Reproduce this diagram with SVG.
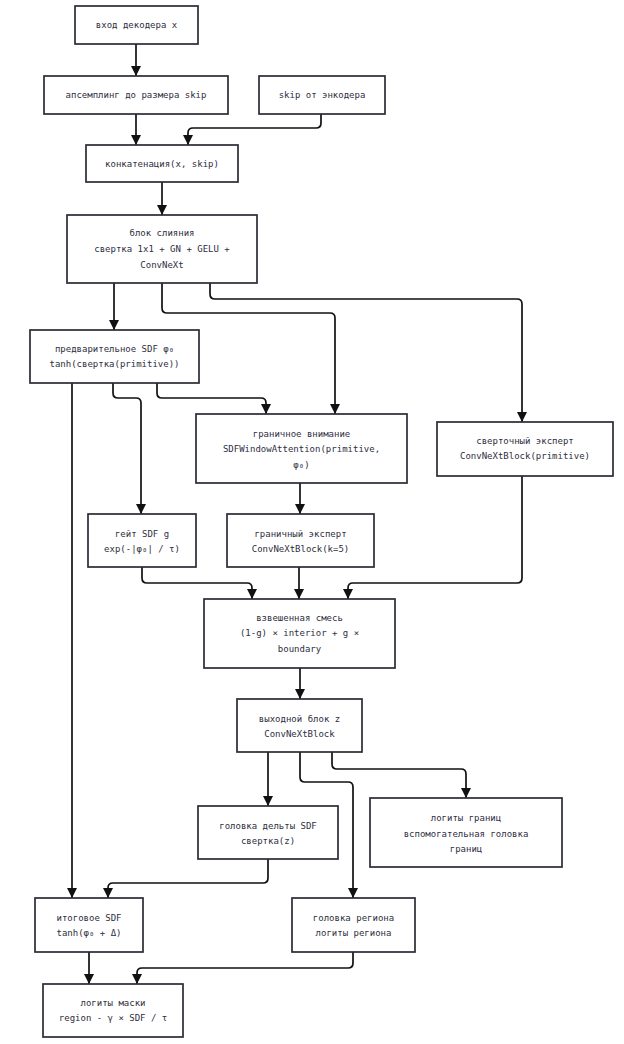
<svg xmlns="http://www.w3.org/2000/svg" width="624" height="1044" viewBox="0 0 624 1044">
<defs>
<marker id="ah" markerUnits="userSpaceOnUse" markerWidth="10" markerHeight="10" refX="10" refY="5" orient="auto">
<path d="M0,0 L10,5 L0,10 z" fill="#111"/>
</marker>
<style>
.box{fill:#fff;stroke:#2b2b36;stroke-width:1.7}
.t{font-family:"DejaVu Sans Mono","Liberation Mono",monospace;font-size:9px;fill:#2e2e3e;text-anchor:middle;dominant-baseline:central}
.c{fill:none;stroke:#111;stroke-width:1.7;marker-end:url(#ah)}
.n{fill:none;stroke:#111;stroke-width:1.7}
</style>
</defs>
<rect width="624" height="1044" fill="#fff"/>
<g id="connectors">
<path class="c" d="M136,44 V76"/>
<path class="c" d="M136,114 V145"/>
<path class="c" d="M321,114 V123 Q321,128 316,128 H193 Q188,128 188,133 V145"/>
<path class="c" d="M162,182 V215"/>
<path class="c" d="M114,283 V330"/>
<path class="c" d="M162,283 V308 Q162,313 167,313 H330 Q335,313 335,318 V414"/>
<path class="c" d="M210,283 V294 Q210,299 215,299 H517 Q522,299 522,304 V422"/>
<path class="c" d="M72,382 V898"/>
<path class="c" d="M113,382 V393 Q113,398 118,398 H136 Q141,398 141,403 V514"/>
<path class="c" d="M157,382 V393 Q157,398 162,398 H261 Q266,398 266,403 V414"/>
<path class="c" d="M300,483 V514"/>
<path class="c" d="M142,567 V578 Q142,583 147,583 H247 Q252,583 252,588 V599"/>
<path class="c" d="M299,567 V599"/>
<path class="c" d="M522,476 V578 Q522,583 517,583 H353 Q348,583 348,588 V599"/>
<path class="c" d="M300,668 V699"/>
<path class="c" d="M268,752 V806"/>
<path class="c" d="M300,752 V777 Q300,782 305,782 H348 Q353,782 353,787 V898"/>
<path class="c" d="M332,752 V764 Q332,769 337,769 H461 Q466,769 466,774 V798"/>
<path class="c" d="M268,859 V878 Q268,883 263,883 H113 Q108,883 108,888 V898"/>
<path class="c" d="M89,952 V984"/>
<path class="c" d="M353,952 V963 Q353,968 348,968 H142 Q137,968 137,973 V984"/>
</g>
<g id="n1"><rect class="box" x="75" y="6" width="123" height="38"/><text class="t" x="136.5" y="25">вход декодера x</text></g>
<g id="n2"><rect class="box" x="44" y="76" width="184" height="38"/><text class="t" x="136" y="95">апсемплинг до размера skip</text></g>
<g id="n3"><rect class="box" x="259" y="76" width="126" height="38"/><text class="t" x="322" y="95">skip от энкодера</text></g>
<g id="n4"><rect class="box" x="86" y="145" width="152" height="37"/><text class="t" x="162" y="163.5">конкатенация(x, skip)</text></g>
<g id="n5"><rect class="box" x="67" y="215" width="190" height="68"/><text class="t" x="162" y="233">блок слияния</text><text class="t" x="162" y="249">свертка 1x1 + GN + GELU +</text><text class="t" x="162" y="265">ConvNeXt</text></g>
<g id="n6"><rect class="box" x="30" y="330" width="169" height="53"/><text class="t" x="114.5" y="349">предварительное SDF φ₀</text><text class="t" x="114.5" y="364">tanh(свертка(primitive))</text></g>
<g id="n7"><rect class="box" x="196" y="414" width="211" height="69"/><text class="t" x="301.5" y="434">граничное внимание</text><text class="t" x="301.5" y="449">SDFWindowAttention(primitive,</text><text class="t" x="301.5" y="465">φ₀)</text></g>
<g id="n8"><rect class="box" x="437" y="422" width="176" height="54"/><text class="t" x="525" y="441">сверточный эксперт</text><text class="t" x="525" y="456">ConvNeXtBlock(primitive)</text></g>
<g id="n9"><rect class="box" x="88" y="514" width="108" height="53"/><text class="t" x="142" y="534">гейт SDF g</text><text class="t" x="142" y="549">exp(-|φ₀| / τ)</text></g>
<g id="n10"><rect class="box" x="227" y="514" width="147" height="53"/><text class="t" x="300.5" y="534">граничный эксперт</text><text class="t" x="300.5" y="549">ConvNeXtBlock(k=5)</text></g>
<g id="n11"><rect class="box" x="204" y="599" width="191" height="69"/><text class="t" x="299.5" y="618">взвешенная смесь</text><text class="t" x="299.5" y="633">(1-g) × interior + g ×</text><text class="t" x="299.5" y="649">boundary</text></g>
<g id="n12"><rect class="box" x="237" y="699" width="125" height="53"/><text class="t" x="299.5" y="719">выходной блок z</text><text class="t" x="299.5" y="734">ConvNeXtBlock</text></g>
<g id="n13"><rect class="box" x="198" y="806" width="140" height="53"/><text class="t" x="268" y="826">головка дельты SDF</text><text class="t" x="268" y="841">свертка(z)</text></g>
<g id="n14"><rect class="box" x="370" y="798" width="192" height="69"/><text class="t" x="466" y="818">логиты границ</text><text class="t" x="466" y="834">вспомогательная головка</text><text class="t" x="466" y="849">границ</text></g>
<g id="n15"><rect class="box" x="35" y="898" width="108" height="54"/><text class="t" x="89" y="918">итоговое SDF</text><text class="t" x="89" y="933">tanh(φ₀ + Δ)</text></g>
<g id="n16"><rect class="box" x="292" y="898" width="123" height="54"/><text class="t" x="353.5" y="918">головка региона</text><text class="t" x="353.5" y="933">логиты региона</text></g>
<g id="n17"><rect class="box" x="43" y="984" width="140" height="53"/><text class="t" x="113" y="1003">логиты маски</text><text class="t" x="113" y="1018">region - γ × SDF / τ</text></g>
</svg>
